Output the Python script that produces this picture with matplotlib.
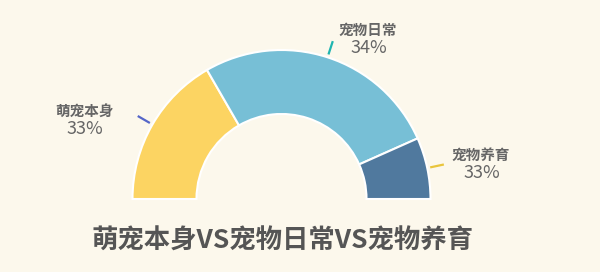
import numpy as np
import matplotlib.pyplot as plt

plt.rcParams['font.family'] = ['Noto Sans CJK SC', 'DejaVu Sans']

# data
categories = ['萌宠本身', '宠物日常', '宠物养育']
shares = [60, 96, 24]          # drawn share of the half ring (degrees)
pct_labels = ['33%', '34%', '33%']
colors = ['#fcd462', '#77bfd6', '#50799e']
leader_colors = ['#5566c8', '#1fb5b0', '#e9c53c']

title = '萌宠本身VS宠物日常VS宠物养育'

W, H = 600, 272
fig = plt.figure(figsize=(W / 100, H / 100), dpi=100)
bg = '#fcf8ec'
fig.patch.set_facecolor(bg)
ax = fig.add_axes([0, 0, 1, 1])
ax.set_facecolor(bg)

cx, cy = 281.5, H - 199
r_out, r_in = 149, 85

# half ring: add an invisible lower half
vals = shares + [sum(shares)]
wedges, _ = ax.pie(vals, colors=colors + ['none'], startangle=180, counterclock=False,
                   radius=r_out, center=(cx, cy),
                   wedgeprops=dict(width=r_out - r_in, edgecolor='white', linewidth=1.5))
wedges[-1].set_edgecolor('none')

# leader ticks at each wedge's middle angle
edges = 180 - np.cumsum([0] + shares)
mids = (edges[:-1] + edges[1:]) / 2
for m, c in zip(mids, leader_colors):
    a = np.deg2rad(m)
    ax.plot([cx + 152 * np.cos(a), cx + 166 * np.cos(a)],
            [cy + 152 * np.sin(a), cy + 166 * np.sin(a)], color=c, lw=1.6,
            solid_capstyle='butt')

# label centres (pixel layout)
label_pos = [(84, 111), (368, 30), (481, 155)]
for (lx, ly), name, p in zip(label_pos, categories, pct_labels):
    ax.text(lx, H - ly, name, ha='center', va='center', fontsize=10.5,
            fontweight='bold', color='#666666')
    ax.text(lx + 1, H - ly - 18, p, ha='center', va='center', fontsize=13,
            fontweight='medium', color='#666666')

ax.text(282.5, H - 241, title, ha='center', va='center', fontsize=19,
        fontweight='bold', color='#555555')

ax.set_xlim(0, W)
ax.set_ylim(0, H)
ax.set_aspect('auto')
ax.axis('off')

fig.savefig('out.png', dpi=100, facecolor=bg)
